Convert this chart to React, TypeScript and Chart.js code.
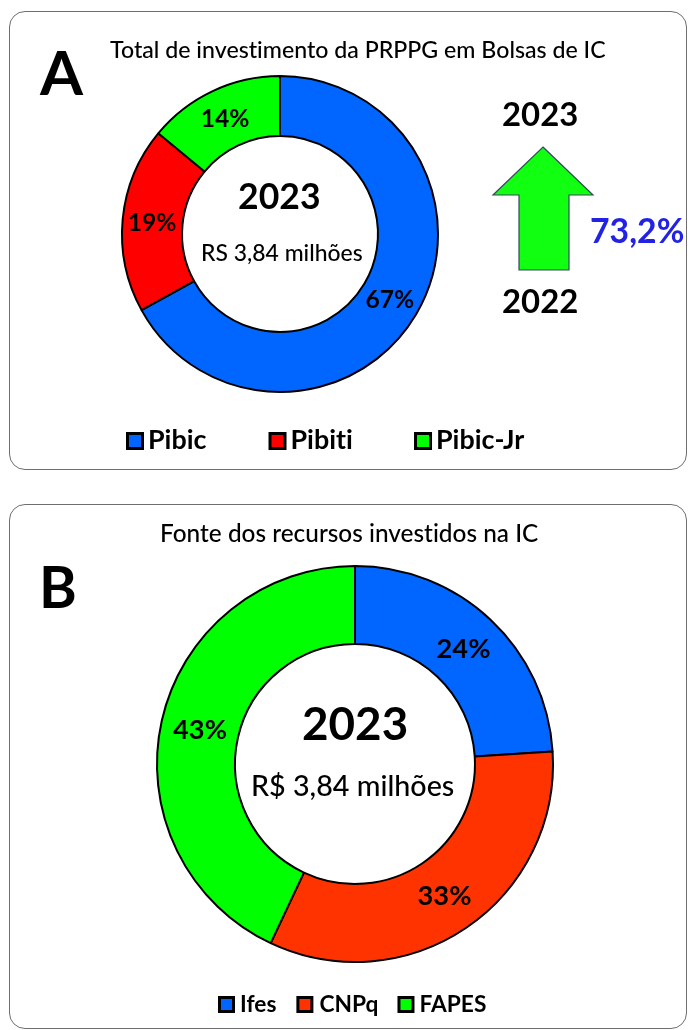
import React, { useEffect, useRef } from "react";
import { Chart, registerables } from "chart.js";

Chart.register(...registerables);

const FONT = "Lato, 'Open Sans', sans-serif";

// ---- Panel A data ----
const titleA = "Total de investimento da PRPPG em Bolsas de IC";
const labelsA = ["Pibic", "Pibiti", "Pibic-Jr"];
const valuesA = [67, 19, 14];
const colorsA = ["#0066FF", "#FF0000", "#00FF00"];
const totalA = "RS 3,84 milhões";
const yearNow = "2023";
const yearPrev = "2022";
const growthPct = "73,2%";

// ---- Panel B data ----
const titleB = "Fonte dos recursos investidos na IC";
const labelsB = ["Ifes", "CNPq", "FAPES"];
const valuesB = [24, 33, 43];
const colorsB = ["#0066FF", "#FF3300", "#00FF00"];
const totalB = "R$ 3,84 milhões";

function setFont(ctx: CanvasRenderingContext2D, weight: string, size: number) {
  ctx.font = `${weight} ${size}px ${FONT}`;
  try {
    (ctx as any).letterSpacing = "0.01px"; // avoid the Lato "ti" ligature
  } catch (e) {}
}

function inkWidth(ctx: CanvasRenderingContext2D, text: string, weight: string, size: number) {
  setFont(ctx, weight, size);
  const m = ctx.measureText(text);
  return m.actualBoundingBoxLeft + m.actualBoundingBoxRight;
}

function fitSize(ctx: CanvasRenderingContext2D, text: string, width: number, weight: string) {
  const w = inkWidth(ctx, text, weight, 100);
  return (100 * width) / w;
}

// draw text so its ink starts at `left` and sits on `baseline`
function drawLeft(ctx: CanvasRenderingContext2D, text: string, left: number, baseline: number, size: number, weight: string, color: string) {
  ctx.save();
  setFont(ctx, weight, size);
  ctx.textAlign = "left";
  ctx.textBaseline = "alphabetic";
  const m = ctx.measureText(text);
  ctx.fillStyle = color;
  ctx.fillText(text, left + m.actualBoundingBoxLeft, baseline);
  ctx.restore();
}

function fitLeft(ctx: CanvasRenderingContext2D, text: string, left: number, baseline: number, width: number, weight: string, color: string) {
  ctx.save();
  const s = fitSize(ctx, text, width, weight);
  drawLeft(ctx, text, left, baseline, s, weight, color);
  ctx.restore();
}

function drawCentered(ctx: CanvasRenderingContext2D, text: string, cx: number, cy: number, size: number, weight: string, color: string) {
  ctx.save();
  setFont(ctx, weight, size);
  ctx.textAlign = "left";
  ctx.textBaseline = "alphabetic";
  const m = ctx.measureText(text);
  const w = m.actualBoundingBoxLeft + m.actualBoundingBoxRight;
  const x = cx - w / 2 + m.actualBoundingBoxLeft;
  const y = cy + (m.actualBoundingBoxAscent - m.actualBoundingBoxDescent) / 2;
  ctx.fillStyle = color;
  ctx.fillText(text, x, y);
  ctx.restore();
}

type Extra = (ctx: CanvasRenderingContext2D, chart: any) => void;

function makeChart(
  canvas: HTMLCanvasElement,
  labels: string[],
  values: number[],
  colors: string[],
  radius: number,
  cutout: string,
  padding: { left: number; right: number; top: number; bottom: number },
  labelWidth: number,
  extra: Extra
) {
  const plugin = {
    id: "extras",
    afterDraw(chart: any) {
      const ctx = chart.ctx as CanvasRenderingContext2D;
      ctx.save();
      const meta = chart.getDatasetMeta(0);
      const size = fitSize(ctx, "67%", labelWidth, "bold");
      meta.data.forEach((arc: any, i: number) => {
        const p = arc.getCenterPoint();
        drawCentered(ctx, `${values[i]}%`, p.x, p.y, size, "bold", "#000");
      });
      extra(ctx, chart);
      ctx.restore();
    },
  };
  return new Chart(canvas, {
    type: "doughnut",
    data: {
      labels,
      datasets: [
        {
          data: values,
          backgroundColor: colors,
          borderColor: "#000",
          borderWidth: 2,
        },
      ],
    },
    options: {
      animation: false,
      responsive: false,
      devicePixelRatio: 1,
      radius,
      cutout,
      layout: { padding },
      plugins: {
        legend: { display: false },
        tooltip: { enabled: false },
        title: { display: false },
      },
      events: [],
    } as any,
    plugins: [plugin],
  });
}

function drawLegend(
  ctx: CanvasRenderingContext2D,
  labels: string[],
  colors: string[],
  startX: number,
  baseline: number,
  box: number,
  fontSize: number,
  textGap: number,
  itemGap: number
) {
  let x = startX;
  labels.forEach((lab, i) => {
    ctx.save();
    ctx.fillStyle = "#000";
    ctx.fillRect(x, baseline - box + 1, box, box);
    ctx.fillStyle = colors[i];
    ctx.fillRect(x + 3, baseline - box + 4, box - 6, box - 6);
    ctx.restore();
    const tx = x + box + textGap;
    drawLeft(ctx, lab, tx, baseline, fontSize, "bold", "#000");
    const w = inkWidth(ctx, lab, "bold", fontSize);
    x = tx + w + itemGap;
  });
}

const W = 688;
const HA = 490;
const TOPB = 495;
const HB = 535;

export default function App() {
  const refA = useRef<HTMLCanvasElement>(null);
  const refB = useRef<HTMLCanvasElement>(null);

  useEffect(() => {
    const chartA = makeChart(
      refA.current!,
      labelsA,
      valuesA,
      colorsA,
      158,
      "62%",
      { left: 120, right: W - 440, top: 74, bottom: HA - 394 },
      47,
      (ctx) => {
        // Title and panel letter
        fitLeft(ctx, titleA, 110, 58, 495, "500", "#000");
        fitLeft(ctx, "A", 39, 95, 44, "bold", "#000");
        // center text
        fitLeft(ctx, yearNow, 239, 209, 80, "bold", "#000");
        fitLeft(ctx, totalA, 203, 261, 159, "500", "#000");
        // comparison
        fitLeft(ctx, yearNow, 503, 126, 74, "bold", "#000");
        fitLeft(ctx, yearPrev, 503, 313, 74, "bold", "#000");
        fitLeft(ctx, growthPct, 591, 243, 92, "bold", "#2222E6");
        // arrow
        ctx.save();
        ctx.beginPath();
        ctx.moveTo(543, 147);
        ctx.lineTo(593, 195);
        ctx.lineTo(569, 195);
        ctx.lineTo(569, 270);
        ctx.lineTo(519, 270);
        ctx.lineTo(519, 195);
        ctx.lineTo(493, 195);
        ctx.closePath();
        ctx.fillStyle = "#11FF11";
        ctx.fill();
        ctx.lineWidth = 1.2;
        ctx.strokeStyle = "#34495E";
        ctx.stroke();
        ctx.restore();
        // legend
        const fs = fitSize(ctx, labelsA[0], 56, "bold");
        drawLegend(ctx, labelsA, colorsA, 126, 449, 18, fs, 6, 62);
      }
    );
    const cyB = 764 - TOPB;
    const chartB = makeChart(
      refB.current!,
      labelsB,
      valuesB,
      colorsB,
      198,
      "60.6%",
      { left: 355 - 200, right: W - 555, top: cyB - 200, bottom: HB - (cyB + 200) },
      52,
      (ctx) => {
        const o = TOPB;
        fitLeft(ctx, titleB, 162, 542 - o, 376, "500", "#000");
        fitLeft(ctx, "B", 43, 608 - o, 31, "bold", "#000");
        fitLeft(ctx, yearNow, 303, 740 - o, 103, "bold", "#000");
        fitLeft(ctx, totalB, 253, 796 - o, 200, "500", "#000");
        const fs = fitSize(ctx, labelsB[1], 57, "bold");
        drawLegend(ctx, labelsB, colorsB, 218, 1012 - o, 17, fs, 6, 20);
      }
    );
    return () => {
      chartA.destroy();
      chartB.destroy();
    };
  }, []);

  const panel: React.CSSProperties = {
    position: "absolute",
    boxSizing: "border-box",
    border: "1.5px solid #6e6e6e",
    borderRadius: 16,
    background: "#fff",
  };

  return (
    <div style={{ position: "absolute", left: 0, top: 0, width: W, height: 1030, background: "#fff", overflow: "hidden" }}>
      <div style={{ ...panel, left: 9, top: 11, width: 678, height: 459 }} />
      <div style={{ ...panel, left: 9, top: 504, width: 678, height: 525 }} />
      <canvas ref={refA} width={W} height={HA} style={{ position: "absolute", left: 0, top: 0, width: W, height: HA }} />
      <canvas ref={refB} width={W} height={HB} style={{ position: "absolute", left: 0, top: TOPB, width: W, height: HB }} />
    </div>
  );
}
